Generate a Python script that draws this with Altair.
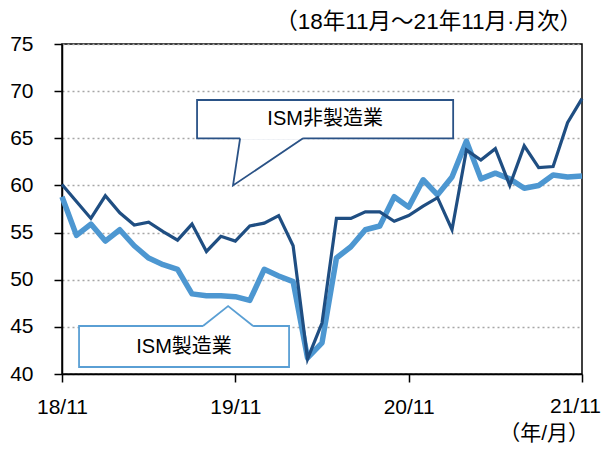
import altair as alt
import pandas as pd

# month index 0 = 2018/11 ... 36 = 2021/11
months = list(range(37))
tick_pos = [0, 12, 24, 36]
tick_labels = ["18/11", "19/11", "20/11", "21/11"]

mfg = [58.8, 54.7, 55.9, 54.1, 55.3, 53.6, 52.3, 51.6, 51.1, 48.5, 48.3, 48.3, 48.2,
       47.8, 51.1, 50.4, 49.8, 41.7, 43.3, 52.3, 53.5, 55.3, 55.7, 58.8, 57.7,
       60.6, 59.0, 60.9, 64.7, 60.7, 61.3, 60.7, 59.7, 60.0, 61.1, 60.9, 61.0]
nonmfg = [60.1, 58.3, 56.5, 58.9, 57.1, 55.8, 56.1, 55.1, 54.2, 55.9, 53.0, 54.6, 54.1,
          55.7, 56.0, 56.8, 53.6, 41.6, 45.4, 56.5, 56.5, 57.2, 57.2, 56.2, 56.8,
          57.8, 58.7, 55.3, 63.75, 62.7, 63.9, 60.0, 64.2, 61.9, 62.0, 66.65, 69.2]

# callout annotations (in data units)
callout_names = ["ISM非製造業", "ISM製造業"]
callout_colors = ["#2a5286", "#5a9fd4"]
box_x0 = [9.35, 1.18]
box_x1 = [27.08, 15.72]
box_top = [69.06, 45.09]
box_bot = [65.0, 40.74]
ptr_a = [12.33, 9.76]
ptr_b = [16.69, 13.23]
ptr_base = [65.0, 45.09]
ptr_tip_x = [11.84, 11.5]
ptr_tip_y = [60.0, 47.2]

DARK = "#1f4e82"
LIGHT = "#4d97d1"
FONT = "Liberation Sans, Arial, Noto Sans CJK JP"

# last tick label is drawn as a separate text (right-aligned so it stays inside the page)
label_expr = " : ".join(
    [f"datum.value == {p} ? '{l}'" for p, l in zip(tick_pos[:-1], tick_labels[:-1])]
) + " : ''"

X = alt.X("m:Q", scale=alt.Scale(domain=[0, 36], nice=False, zero=False),
          axis=alt.Axis(values=tick_pos, labelExpr=label_expr, title=None, grid=False,
                        tickSize=8, tickWidth=1.5, tickColor="black",
                        domainColor="black", domainWidth=1.5, labelFlush=False,
                        labelFontSize=21, labelFont=FONT, labelColor="black",
                        labelPadding=14))
Y = alt.Y("v:Q", scale=alt.Scale(domain=[40, 75], nice=False, zero=False),
          axis=alt.Axis(values=[40, 45, 50, 55, 60, 65, 70, 75], title=None,
                        grid=True, gridColor="#a6a6a6", gridDash=[2, 3], gridWidth=1.5,
                        tickSize=8, tickWidth=1.5, tickColor="black",
                        domainColor="black", domainWidth=1.5,
                        labelFontSize=21, labelFont=FONT, labelColor="black",
                        labelPadding=21))

df_mfg = pd.DataFrame({"m": months, "v": mfg})
df_non = pd.DataFrame({"m": months, "v": nonmfg})

boxes = pd.DataFrame({"name": callout_names, "c": callout_colors,
                      "m": box_x0, "m2": box_x1, "v": box_top, "v2": box_bot,
                      "tx": [(a + b) / 2 for a, b in zip(box_x0, box_x1)],
                      "ty": [(a + b) / 2 for a, b in zip(box_top, box_bot)]})
covers = pd.DataFrame({"m": ptr_a, "m2": ptr_b, "v": ptr_base})
ptr_rows = []
for i in range(2):
    ptr_rows.append({"id": i, "k": 0, "m": ptr_a[i], "v": ptr_base[i], "c": callout_colors[i]})
    ptr_rows.append({"id": i, "k": 1, "m": ptr_tip_x[i], "v": ptr_tip_y[i], "c": callout_colors[i]})
    ptr_rows.append({"id": i, "k": 2, "m": ptr_b[i], "v": ptr_base[i], "c": callout_colors[i]})
ptrs = pd.DataFrame(ptr_rows)

line_mfg = alt.Chart(df_mfg).mark_line(color=LIGHT, strokeWidth=5.5, strokeJoin="round").encode(x=X, y=Y)
line_non = alt.Chart(df_non).mark_line(color=DARK, strokeWidth=3.2, strokeJoin="miter").encode(x=X, y=Y)

box_layer = alt.Chart(boxes).mark_rect(fill="white", strokeWidth=1.8).encode(
    x=X, x2="m2:Q", y=Y, y2="v2:Q", stroke=alt.Stroke("c:N", scale=None))
cover_layer = alt.Chart(covers).mark_rule(color="white", strokeWidth=3).encode(
    x=X, x2="m2:Q", y=Y)
ptr_layer = alt.Chart(ptrs).mark_line(strokeWidth=1.8).encode(
    x=X, y=Y, detail="id:N", order="k:Q", stroke=alt.Stroke("c:N", scale=None))
box_text = alt.Chart(boxes).mark_text(fontSize=20, font=FONT, color="black",
                                      baseline="middle", align="center").encode(
    x=alt.X("tx:Q"), y=alt.Y("ty:Q"), text="name:N")

last_label = alt.Chart(pd.DataFrame({"t": [tick_labels[-1]]})).mark_text(
    fontSize=21, font=FONT, color="black", align="right", baseline="top").encode(
    x=alt.value(539), y=alt.value(352), text="t:N")
title_text = alt.Chart(pd.DataFrame({"t": ["（18年11月～21年11月·月次）"]})).mark_text(
    fontSize=22.5, font=FONT, color="black", align="right", baseline="middle").encode(
    x=alt.value(520), y=alt.value(-22), text="t:N")
unit_text = alt.Chart(pd.DataFrame({"t": ["（年/月）"]})).mark_text(
    fontSize=21, font=FONT, color="black", align="right", baseline="middle").encode(
    x=alt.value(527), y=alt.value(390), text="t:N")

chart = alt.layer(box_layer, cover_layer, ptr_layer, box_text,
                  line_mfg, line_non, last_label, title_text, unit_text).properties(
    width=520, height=330,
    autosize=alt.AutoSizeParams(type="none"),
    padding={"left": 54, "top": 36, "right": 20, "bottom": 70},
).configure_view(stroke="black", strokeWidth=1.5)

chart.save("out.html", embed_options={"renderer": "svg", "actions": False})
